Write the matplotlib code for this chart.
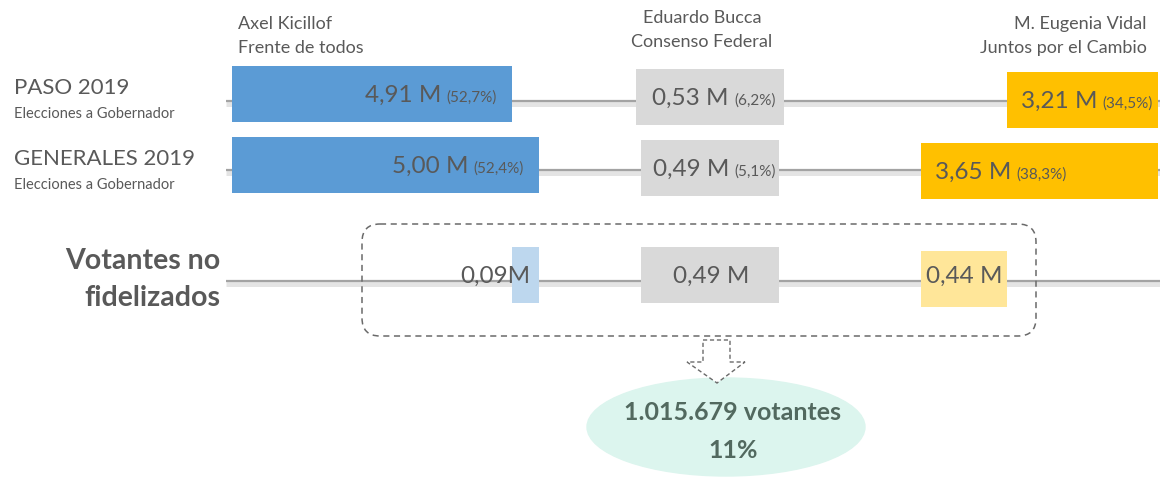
import matplotlib.pyplot as plt
from matplotlib.patches import FancyBboxPatch, Ellipse, Polygon

plt.rcParams['font.family'] = ['Lato', 'DejaVu Sans']

# ---- data ----
rows = ['PASO 2019', 'GENERALES 2019']
row_sub = 'Elecciones a Gobernador'
candidates = ['Axel Kicillof', 'Eduardo Bucca', 'M. Eugenia Vidal']
parties = ['Frente de todos', 'Consenso Federal', 'Juntos por el Cambio']

kicillof = [4.91, 5.00]          # millones de votos
bucca = [0.53, 0.49]
vidal = [3.21, 3.65]
kicillof_pct = [52.7, 52.4]
bucca_pct = [6.2, 5.1]
vidal_pct = [34.5, 38.3]

# votantes no fidelizados
nf_kicillof = 0.09
nf_bucca = 0.49
nf_vidal = 0.44
nf_total = 1015679
nf_pct = 11

# ---- style / layout (pixels) ----
W, H = 1160, 478
TXT = '#595959'
BLUE, BLUE_L = '#5b9bd5', '#bdd7ee'
GRAY = '#d9d9d9'
YEL, YEL_L = '#ffc000', '#ffe699'
BAR_H = 56
row_y = [97, 168, 277]
line_y = [101, 170, 281]


def fmt(v):
    return f'{v:.2f}'.replace('.', ',')


def pct(p):
    return f'({p:.1f}%)'.replace('.', ',')


fig = plt.figure(figsize=(W / 100, H / 100), dpi=100)
bg = fig.add_axes([0, 0, 1, 1])
bg.set_xlim(0, W)
bg.set_ylim(H, 0)
bg.axis('off')


def party_ax(x0, x1, xlim):
    ax = fig.add_axes([x0 / W, 0, (x1 - x0) / W, 1])
    ax.set_xlim(*xlim)
    ax.set_ylim(H, 0)
    ax.axis('off')
    ax.patch.set_visible(False)
    return ax


# connector lines with soft shadow
for y in line_y:
    bg.plot([226, W], [y + 2, y + 2], color='#e4e4e4', lw=5, solid_capstyle='butt', zorder=1)
    bg.plot([226, W], [y, y], color='#a3a3a3', lw=1.6, solid_capstyle='butt', zorder=2)

# blue: 1 M = 300 px, axis starts just below 4 M
ax_b = party_ax(232, 600, (3.977, 3.977 + 368 / 300))
# grey: centred boxes, 1 M = 280 px
ax_g = party_ax(560, 860, (-150 / 280, 150 / 280))
# yellow: right anchored, 1 M = 195.5 px
ax_y = party_ax(880, 1158, (2.438 + 278 / 195.5, 2.438))

renderer = fig.canvas.get_renderer()


def width_px(t):
    return t.get_window_extent(renderer).width


BIG, SMALL = 17.5, 11

for i in range(2):
    yc = row_y[i]
    # blue
    ax_b.barh(yc - 3, kicillof[i], height=BAR_H, color=BLUE, zorder=3)
    s = ax_b.annotate(pct(kicillof_pct[i]), (kicillof[i], yc + 5), xytext=(-15, 0),
                      textcoords='offset pixels', ha='right', va='baseline',
                      fontsize=SMALL, color=TXT, zorder=4)
    ax_b.annotate(fmt(kicillof[i]) + ' M', (kicillof[i], yc + 5),
                  xytext=(-15 - width_px(s) - 5, 0), textcoords='offset pixels',
                  ha='right', va='baseline', fontsize=BIG, color=TXT, zorder=4)
    # grey
    ax_g.barh(yc, bucca[i], left=-bucca[i] / 2, height=BAR_H, color=GRAY, zorder=3)
    b = ax_g.annotate(fmt(bucca[i]) + ' M', (0, yc + 8), xytext=(0, 0),
                      textcoords='offset pixels', ha='left', va='baseline',
                      fontsize=BIG, color=TXT, zorder=4)
    s = ax_g.annotate(pct(bucca_pct[i]), (0, yc + 8), xytext=(0, 0),
                      textcoords='offset pixels', ha='left', va='baseline',
                      fontsize=SMALL, color=TXT, zorder=4)
    tot = width_px(b) + 5 + width_px(s)
    b.set_position((-tot / 2 + 4, 0))
    s.set_position((-tot / 2 + 4 + width_px(b) + 5, 0))
    # yellow
    ax_y.barh(yc + 3, vidal[i], height=BAR_H, color=YEL, zorder=3)
    b = ax_y.annotate(fmt(vidal[i]) + ' M', (vidal[i], yc + 11), xytext=(14, 0),
                      textcoords='offset pixels', ha='left', va='baseline',
                      fontsize=BIG, color=TXT, zorder=4)
    ax_y.annotate(pct(vidal_pct[i]), (vidal[i], yc + 11), xytext=(14 + width_px(b) + 5, 0),
                  textcoords='offset pixels', ha='left', va='baseline',
                  fontsize=SMALL, color=TXT, zorder=4)

# row 3: votantes no fidelizados (difference between both elections)
yc = row_y[2]
ax_b.barh(yc - 2, nf_kicillof, left=kicillof[0], height=BAR_H, color=BLUE_L, zorder=3)
ax_b.annotate(fmt(nf_kicillof) + 'M', (kicillof[1], yc + 6), xytext=(-9, 0),
              textcoords='offset pixels', ha='right', va='baseline',
              fontsize=BIG, color=TXT, zorder=4)
ax_g.barh(yc - 2, nf_bucca, left=-nf_bucca / 2, height=BAR_H, color=GRAY, zorder=3)
ax_g.annotate(fmt(nf_bucca) + ' M', (0, yc + 6), xytext=(1, 0), textcoords='offset pixels',
              ha='center', va='baseline', fontsize=BIG, color=TXT, zorder=4)
ax_y.barh(yc + 2, nf_vidal, left=vidal[0], height=BAR_H, color=YEL_L, zorder=3)
ax_y.annotate(fmt(nf_vidal) + ' M', (vidal[0] + nf_vidal / 2, yc + 6),
              ha='center', va='baseline', fontsize=BIG, color=TXT, zorder=4)

# row labels
for i, name in enumerate(rows):
    bg.text(14, row_y[i] - 9, name, fontsize=16, color=TXT, va='center', ha='left')
    bg.text(14, row_y[i] + 17, row_sub, fontsize=10.5, color=TXT, va='center', ha='left')
bg.text(220, 261, 'Votantes no', fontsize=20.5, fontweight='bold', color=TXT, ha='right', va='center')
bg.text(220, 298, 'fidelizados', fontsize=20.5, fontweight='bold', color=TXT, ha='right', va='center')

# column headers
HDR = 13
bg.text(238, 24, candidates[0], fontsize=HDR, color=TXT, ha='left', va='center')
bg.text(238, 48, parties[0], fontsize=HDR, color=TXT, ha='left', va='center')
bg.text(702, 18, candidates[1], fontsize=HDR, color=TXT, ha='center', va='center')
bg.text(702, 42, parties[1], fontsize=HDR, color=TXT, ha='center', va='center')
bg.text(1147, 24, candidates[2], fontsize=HDR, color=TXT, ha='right', va='center')
bg.text(1147, 48, parties[2], fontsize=HDR, color=TXT, ha='right', va='center')

# dashed rounded frame around row 3
bg.add_patch(FancyBboxPatch((362, 224), 674, 112, boxstyle='round,pad=0,rounding_size=18',
                            fill=False, ec='#6a6a6a', lw=1.1, ls=(0, (4, 3)), zorder=5))

# summary ellipse and arrow
bg.add_patch(Ellipse((726, 427), 278, 98, color='#dcf5ee', zorder=5))
bg.add_patch(Polygon([(703, 340), (730, 340), (730, 362), (745, 362), (717, 383),
                      (687, 362), (703, 362)], closed=True, fc='white', ec='#6a6a6a',
                     lw=1, ls=(0, (3, 2)), zorder=6))
total_txt = f'{nf_total:,}'.replace(',', '.') + ' votantes'
bg.text(733, 412, total_txt, fontsize=18, fontweight='bold', color='#52695f',
        ha='center', va='center', zorder=7)
bg.text(733, 451, f'{nf_pct}%', fontsize=18, fontweight='bold', color='#52695f',
        ha='center', va='center', zorder=7)

fig.savefig('out.png', dpi=100)
